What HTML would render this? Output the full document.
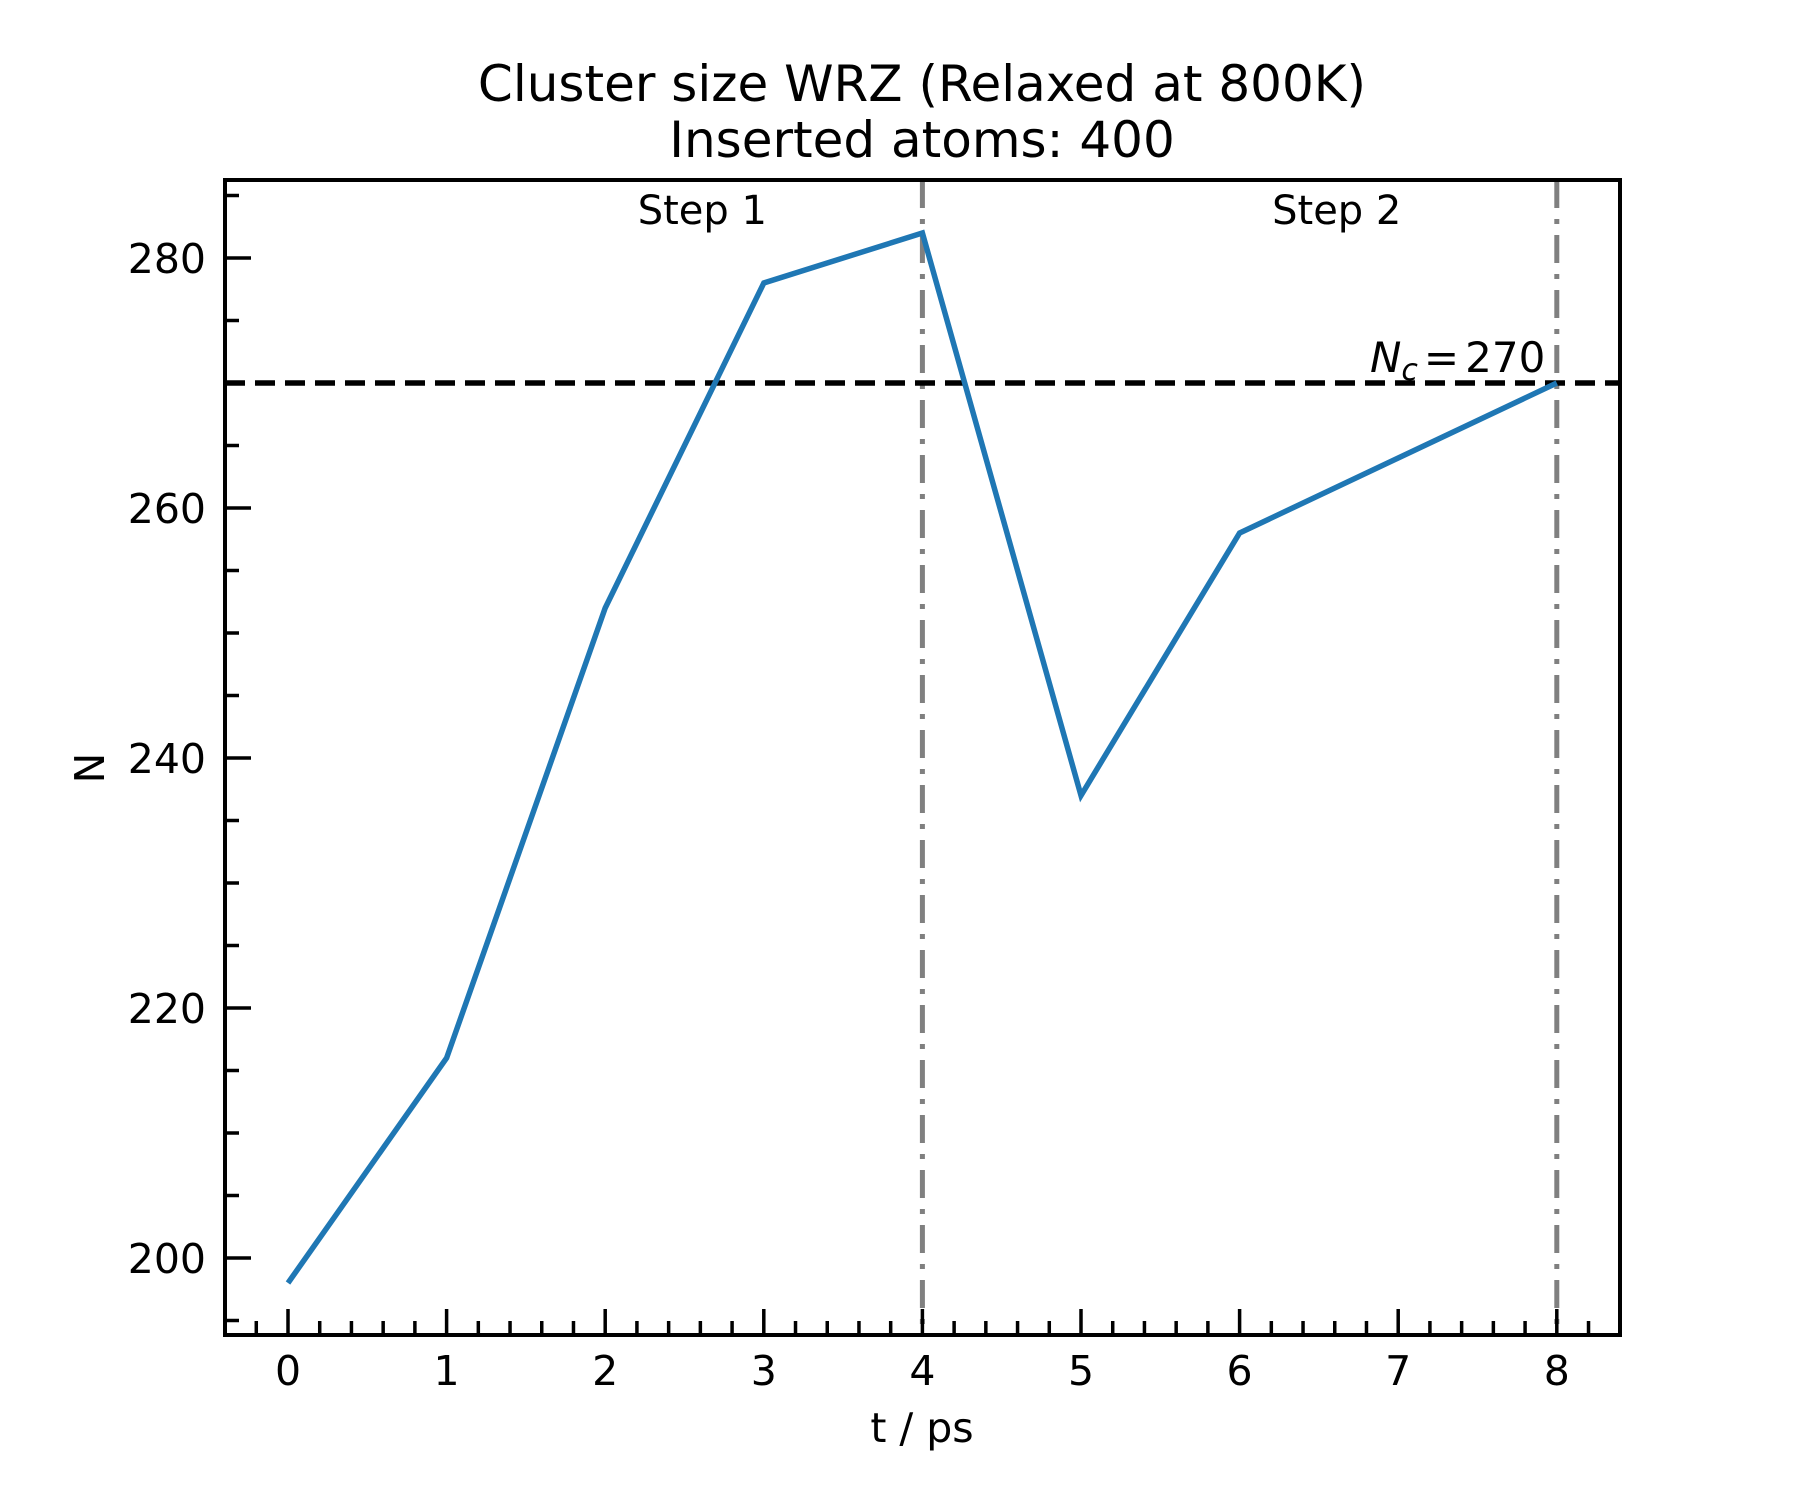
<!DOCTYPE html>
<html><head><meta charset="utf-8"><style>
html,body{margin:0;padding:0;background:#fff}
svg text{font-family:"DejaVu Sans","Liberation Sans",sans-serif;fill:#000}
</style></head><body>
<svg id="chart" width="1800" height="1500" viewBox="0 0 1800 1500" xmlns="http://www.w3.org/2000/svg">
<rect width="1800" height="1500" fill="#fff"/>
<text x="922" y="101" font-size="50" text-anchor="middle">Cluster size WRZ (Relaxed at 800K)</text>
<text x="922" y="157" font-size="50" text-anchor="middle">Inserted atoms: 400</text>
<g id="plot"></g>
<text x="922" y="1442" font-size="41" text-anchor="middle">t / ps</text>
<text x="104" y="768" font-size="41" text-anchor="middle" transform="rotate(-90 104 768)">N</text>
</svg>
<script>
const times = [0,1,2,3,4,5,6,7,8];
const clusterN = [198,216,252,278,282,237,258,264,270];
const xTickLabels = ["0","1","2","3","4","5","6","7","8"];
const yTickLabels = ["200","220","240","260","280"];
const threshold = 270;
const stepBoundaries = [4,8];
const stepLabels = ["Step 1","Step 2"];
const stepLabelX = [2.6,6.6];

const NS="http://www.w3.org/2000/svg";
const L=225,R=1620,T=180,B=1335;
function xs(v){return 288+v*158.6;}
function ys(v){return 258+(280-v)*12.5;}
const g=document.getElementById('plot');
function mk(tag,attrs){const e=document.createElementNS(NS,tag);for(const k in attrs)e.setAttribute(k,attrs[k]);g.appendChild(e);return e;}

stepBoundaries.forEach(b=>{
  const e=mk('line',{x1:xs(b),x2:xs(b),y1:T,y2:B,stroke:'#808080','stroke-width':5,'stroke-dasharray':'28 11 5 11'});
  
  
});
const th=mk('line',{x1:L,x2:R,y1:ys(threshold),y2:ys(threshold),stroke:'#000','stroke-width':5.5,'stroke-dasharray':'20 10'});


const pl=mk('polyline',{points:times.map((t,i)=>xs(t)+','+ys(clusterN[i])).join(' '),fill:'none',stroke:'#1f77b4','stroke-width':5.5,'stroke-linejoin':'miter'});


stepLabels.forEach((s,i)=>{
  const e=mk('text',{x:xs(stepLabelX[i])+2,y:224,'font-size':40,'text-anchor':'middle'});
  e.textContent=s;
  
  
});
const nc=mk('text',{x:1370,y:372,'font-size':42});
nc.innerHTML='<tspan font-style="italic">N</tspan><tspan font-style="italic" font-size="30" dy="8">c</tspan><tspan dy="-8" dx="6">=</tspan><tspan dx="6">270</tspan>';


for(let i=-2;i<=42;i++){
  const v=i*0.2; const x=xs(v); if(x<L||x>R)continue;
  const major=i%5===0;
  const e=mk('line',{x1:x,x2:x,y1:B,y2:B-(major?26:14),stroke:'#000','stroke-width':3.5});
  
  
}
xTickLabels.forEach((lab,i)=>{
  const e=mk('text',{x:xs(times[i]),y:1385,'font-size':41,'text-anchor':'middle'});
  e.textContent=lab;
  
  
});
for(let v=195;v<=285;v+=5){
  const y=ys(v); if(y<T||y>B)continue;
  const major=v%20===0;
  const e=mk('line',{x1:L,x2:L+(major?26:14),y1:y,y2:y,stroke:'#000','stroke-width':3.5});
  
  
}
yTickLabels.forEach(lab=>{
  const e=mk('text',{x:206,y:ys(+lab)+15,'font-size':41,'text-anchor':'end'});
  e.textContent=lab;
  
  
});
const fr=mk('rect',{x:L,y:T,width:R-L,height:B-T,fill:'none',stroke:'#000','stroke-width':4});


</script>
</body></html>
